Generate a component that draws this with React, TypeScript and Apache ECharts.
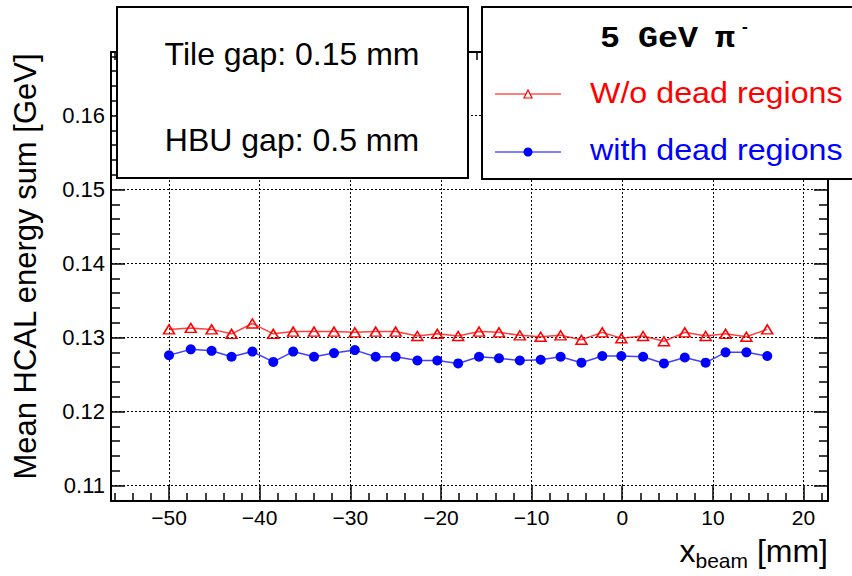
import { useEffect, useRef } from "react";
import * as echarts from "echarts";

// Beam position scan, 5 GeV pi-, mean HCAL energy sum
const beamX = [
  -50.0, -47.6, -45.3, -43.1, -40.8, -38.5, -36.3, -34.0, -31.8, -29.5,
  -27.2, -25.0, -22.6, -20.4, -18.1, -15.8, -13.6, -11.3, -9.0, -6.8,
  -4.5, -2.2, -0.1, 2.3, 4.6, 6.9, 9.2, 11.4, 13.7, 16.0,
];
const noDeadRegions = [
  0.1311, 0.1313, 0.1311, 0.1305, 0.1319, 0.1305, 0.1308, 0.1308, 0.1308, 0.1307,
  0.1308, 0.1308, 0.1302, 0.1305, 0.1302, 0.1308, 0.1307, 0.1303, 0.1301, 0.1303,
  0.1297, 0.1307, 0.1299, 0.1302, 0.1295, 0.1307, 0.1302, 0.1305, 0.1301, 0.1311,
];
const withDeadRegions = [
  0.1276, 0.1284, 0.1282, 0.1274, 0.1281, 0.1267, 0.1281, 0.1274, 0.1279, 0.1283,
  0.1274, 0.1274, 0.1269, 0.1269, 0.1265, 0.1274, 0.1272, 0.1269, 0.127, 0.1274,
  0.1266, 0.1275, 0.1275, 0.1274, 0.1265, 0.1273, 0.1266, 0.128, 0.128, 0.1275,
];
const seriesNames = ["W/o dead regions", "with dead regions"];
const infoLines = ["Tile gap: 0.15 mm", "HBU gap: 0.5 mm"];

const FONT = "Liberation Sans, Arial, sans-serif";
const MONO = "Liberation Mono, Courier New, monospace";

const X_MIN = -56.4;
const X_MAX = 22.7;
const Y_MIN = 0.1079;
const Y_MAX = 0.1686;

const isMultiple = (v: number, step: number) =>
  Math.abs(v / step - Math.round(v / step)) < 1e-6;

const frameAxis = {
  axisLine: { show: true, onZero: false, lineStyle: { color: "#000", width: 2 } },
  axisTick: { show: true, inside: true, length: 15, lineStyle: { color: "#000", width: 1.5 } },
  minorTick: { show: true, splitNumber: 5, length: 8, lineStyle: { color: "#000", width: 1.5 } },
};

export default function App() {
  const ref = useRef<HTMLDivElement>(null);

  useEffect(() => {
    if (!ref.current) return;
    const chart = echarts.init(ref.current, null, { renderer: "svg" });

    const xCommon = {
      type: "value" as const,
      min: X_MIN,
      max: X_MAX,
      minInterval: 10,
      maxInterval: 10,
      ...frameAxis,
    };
    const yCommon = {
      type: "value" as const,
      min: Y_MIN,
      max: Y_MAX,
      minInterval: 0.01,
      maxInterval: 0.01,
      ...frameAxis,
      axisTick: { ...frameAxis.axisTick, length: 14 },
      minorTick: { ...frameAxis.minorTick, length: 9 },
    };

    chart.setOption({
      animation: false,
      backgroundColor: "#fff",
      grid: {
        left: 111,
        top: 52,
        width: 717,
        height: 449,
        containLabel: false,
        outerBoundsMode: "none",
      },
      xAxis: [
        {
          ...xCommon,
          position: "bottom",
          axisLabel: {
            color: "#000",
            fontFamily: FONT,
            fontSize: 21,
            margin: 6,
            formatter: (v: number) =>
              isMultiple(v, 10) ? (v < 0 ? "\u2212" + Math.abs(v) : String(v)) : "",
          },
          splitLine: { show: true, lineStyle: { color: "#000", width: 1, type: [2, 2] } },
          name: "{x|x}{sub|beam}{x| [mm]}",
          nameLocation: "end",
          nameGap: 0,
          nameTextStyle: {
            align: "right",
            verticalAlign: "top",
            padding: [30, 0, 0, 0],
            rich: {
              x: { fontSize: 32, fontFamily: FONT, color: "#000", lineHeight: 40 },
              sub: {
                fontSize: 21,
                fontFamily: FONT,
                color: "#000",
                verticalAlign: "bottom",
                lineHeight: 18,
              },
            },
          },
        },
        {
          ...xCommon,
          position: "top",
          axisLabel: { show: false },
          splitLine: { show: false },
        },
      ],
      yAxis: [
        {
          ...yCommon,
          position: "left",
          axisLabel: {
            color: "#000",
            fontFamily: FONT,
            fontSize: 22,
            margin: 6,
            formatter: (v: number) => (isMultiple(v, 0.01) ? v.toFixed(2) : ""),
          },
          splitLine: { show: true, lineStyle: { color: "#000", width: 1, type: [2, 2] } },
          name: "Mean HCAL energy sum [GeV]",
          nameLocation: "middle",
          nameGap: 70,
          nameRotate: 90,
          nameTextStyle: {
            color: "#000",
            fontFamily: FONT,
            fontSize: 31,
            padding: [0, 0, 0, 20],
          },
        },
        {
          ...yCommon,
          position: "right",
          axisLabel: { show: false },
          splitLine: { show: false },
        },
      ],
      series: [
        {
          name: seriesNames[0],
          type: "line",
          data: beamX.map((x, i) => [x, noDeadRegions[i]]),
          symbol: "triangle",
          symbolSize: [11, 9],
          lineStyle: { color: "#ff0000", width: 1.5, opacity: 0.75 },
          itemStyle: { color: "rgba(0,0,0,0)", borderColor: "#ff0000", borderWidth: 1.5 },
          z: 3,
        },
        {
          name: seriesNames[1],
          type: "line",
          data: beamX.map((x, i) => [x, withDeadRegions[i]]),
          symbol: "circle",
          symbolSize: 10,
          lineStyle: { color: "#0000ff", width: 1.5, opacity: 0.75 },
          itemStyle: { color: "#0000ff", borderWidth: 0 },
          z: 3,
        },
      ],
      graphic: [
        // detector gap info box
        {
          type: "rect",
          z: 100,
          shape: { x: 117, y: 7, width: 351, height: 171 },
          style: { fill: "#fff", stroke: "#000", lineWidth: 2 },
        },
        {
          type: "text",
          z: 101,
          x: 292,
          y: 54,
          style: {
            text: infoLines[0],
            fill: "#000",
            font: `32px ${FONT}`,
            align: "center",
            verticalAlign: "middle",
          },
        },
        {
          type: "text",
          z: 101,
          x: 292,
          y: 140,
          style: {
            text: infoLines[1],
            fill: "#000",
            font: `32px ${FONT}`,
            align: "center",
            verticalAlign: "middle",
          },
        },
        // legend box
        {
          type: "rect",
          z: 100,
          shape: { x: 482, y: 7, width: 380, height: 172 },
          style: { fill: "#fff", stroke: "#000", lineWidth: 2 },
        },
        {
          type: "text",
          z: 101,
          x: 600,
          y: 39,
          scaleX: 1.15,
          style: { text: "5", fill: "#000", font: `bold 29px ${MONO}`, align: "left", verticalAlign: "middle" },
        },
        {
          type: "text",
          z: 101,
          x: 638,
          y: 39,
          scaleX: 1.15,
          style: { text: "GeV", fill: "#000", font: `bold 29px ${MONO}`, align: "left", verticalAlign: "middle" },
        },
        {
          type: "text",
          z: 101,
          x: 715,
          y: 39,
          scaleX: 1.15,
          style: { text: "\u03c0", fill: "#000", font: `bold 29px ${MONO}`, align: "left", verticalAlign: "middle" },
        },
        {
          type: "text",
          z: 101,
          x: 740,
          y: 28,
          style: { text: "-", fill: "#000", font: `bold 16px ${MONO}`, align: "left", verticalAlign: "middle" },
        },
        {
          type: "line",
          z: 101,
          shape: { x1: 495, y1: 94, x2: 561, y2: 94 },
          style: { stroke: "#ff0000", lineWidth: 1 },
        },
        {
          type: "polygon",
          z: 102,
          shape: { points: [[524, 98], [532, 98], [528, 90]] },
          style: { fill: "#fff", stroke: "#ff0000", lineWidth: 1.2 },
        },
        {
          type: "text",
          z: 101,
          x: 590,
          y: 93,
          scaleX: 1.075,
          style: {
            text: seriesNames[0],
            fill: "#ff0000",
            font: `30px ${FONT}`,
            align: "left",
            verticalAlign: "middle",
          },
        },
        {
          type: "line",
          z: 101,
          shape: { x1: 495, y1: 152, x2: 561, y2: 152 },
          style: { stroke: "#0000ff", lineWidth: 1 },
        },
        {
          type: "circle",
          z: 102,
          shape: { cx: 528, cy: 152, r: 4.5 },
          style: { fill: "#0000ff" },
        },
        {
          type: "text",
          z: 101,
          x: 590,
          y: 150,
          scaleX: 1.075,
          style: {
            text: seriesNames[1],
            fill: "#0000ff",
            font: `30px ${FONT}`,
            align: "left",
            verticalAlign: "middle",
          },
        },
      ],
    });

    return () => chart.dispose();
  }, []);

  return (
    <div
      ref={ref}
      style={{ position: "absolute", left: 0, top: 0, width: 852, height: 576, background: "#fff" }}
    />
  );
}
